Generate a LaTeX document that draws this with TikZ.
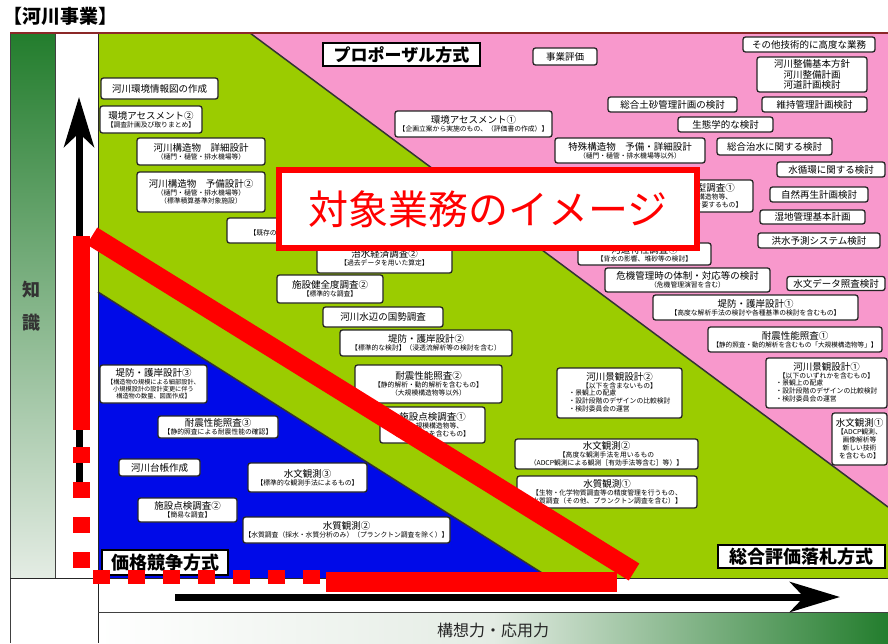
\documentclass[tikz,border=0pt]{standalone}
\usepackage{fontspec}
\setmainfont{Noto Sans CJK JP}
\usetikzlibrary{arrows.meta}

\definecolor{fieldgreen}{RGB}{155,204,0}
\definecolor{fieldpink}{RGB}{248,152,204}
\definecolor{fieldblue}{RGB}{0,10,232}
\definecolor{bargreen}{RGB}{35,125,45}
\definecolor{barlight}{RGB}{228,236,228}
\definecolor{framered}{RGB}{140,40,40}
\definecolor{markred}{RGB}{255,0,0}

\newcommand{\lblmain}{\fontsize{9.5}{11}\selectfont}
\newcommand{\lblsub}{\fontsize{6.8}{8}\selectfont}

\begin{document}
\begin{tikzpicture}[x=1pt,y=-1pt,
  lbl/.style={draw=black!85, line width=1.3pt, rounded corners=2.5pt, fill=white,
    align=center, inner sep=1pt, font=\lblsub},
  one/.style={lbl, font=\lblmain},
  box/.style 2 args={minimum width=#1pt, minimum height=#2pt},
  howto/.style={draw=black, line width=1.8pt, fill=white, inner sep=1pt,
    font=\bfseries\fontsize{17}{18}\selectfont},
  edge/.style={draw=black!80, line width=1.5pt},
  axis/.style={line width=7pt, -{Stealth[length=50pt,width=30pt,inset=14pt]}},
  redmark/.style={draw=markred, line width=17pt},
]
  \fill[white] (0,0) rectangle (888,643);
  \useasboundingbox (0,0) rectangle (888,643);

  % background fields
  \shade[top color=bargreen, bottom color=barlight] (10,33) rectangle (55,578);
  \shade[left color=white, right color=bargreen, middle color=barlight] (98,612) rectangle (888,643);
  \fill[fieldgreen] (98,33) rectangle (888,578);
  \fill[fieldpink] (250,33) -- (888,33) -- (888,507) -- cycle;
  \draw[edge] (250,33) -- (888,507);
  \fill[fieldblue] (98,292) -- (550,578) -- (98,578) -- cycle;
  \draw[edge] (98,292) -- (550,578);

  % frame
  \draw[black!75, line width=0.8pt] (10,33) -- (10,643);
  \draw[black!75, line width=0.8pt] (55,33) -- (55,578);
  \draw[black!85, line width=1pt] (98,33) -- (98,643);
  \draw[black!85, line width=1pt] (10,578) -- (888,578);
  \draw[black!75, line width=0.8pt] (98,612) -- (888,612);
  \draw[framered, line width=1.6pt] (10,33) -- (888,33);

  \node[anchor=west, font=\bfseries\fontsize{19}{20}\selectfont] (title) at (0,16) {【河川事業】};
  \node[font=\bfseries\fontsize{18}{19}\selectfont, text=black!80] (chi) at (32,290) {知};
  \node[font=\bfseries\fontsize{18}{19}\selectfont, text=black!80] (shiki) at (32,323) {識};
  \node[font=\fontsize{16}{17}\selectfont, text=black!85] (kousou) at (493,630) {構想力・応用力};

  % green field
  \node[one, box={117}{21}] (kankyozu) at (159.5,88.5) {河川環境情報図の作成};
  \node[lbl, box={102}{27}] (asesu2) at (151,119.5) {{\lblmain 環境アセスメント②}\\【調査計画及び取りまとめ】};
  \node[lbl, box={128}{27}] (shosai) at (201,151.5) {{\lblmain 河川構造物　詳細設計}\\（樋門・樋管・排水機場等）};
  \node[lbl, box={128}{40}] (yobi2) at (201,192) {{\lblmain 河川構造物　予備設計②}\\（樋門・樋管・排水機場等）\\（標準積算基準対象施設）};
  \node[lbl, box={140}{25}, text height=12pt, text depth=2pt] (kaiseki) at (297,230.5) {【既存の解析手法によるもの】};
  \node[lbl, box={135}{30}] (chisui) at (384.5,258) {{\lblmain 治水経済調査②}\\【過去データを用いた算定】};
  \node[lbl, box={106}{28}] (kenzen) at (330,289) {{\lblmain 施設健全度調査②}\\【標準的な調査】};
  \node[one, box={120}{20}] (kokusei) at (383,317) {河川水辺の国勢調査};
  \node[lbl, box={172}{26}] (teibo2) at (426,343) {{\lblmain 堤防・護岸設計②}\\【標準的な検討】（浸透流解析等の検討を含む）};
  \node[lbl, box={147}{38}] (taishin2) at (428.5,384) {{\lblmain 耐震性能照査②}\\【静的解析・動的解析を含むもの】\\（大規模構造物等以外）};
  \node[lbl, box={105}{36}] (tenken1) at (432.5,425) {{\lblmain 施設点検調査①}\\【大規模構造物等、\\特殊なものを含むもの】};
  \node[lbl, box={125}{50}] (keikan2) at (619.5,393) {{\lblmain 河川景観設計②}\\【以下を含まないもの】\\
    \begin{tabular}{@{}l@{}}・景観上の配慮\\・設計段階のデザインの比較検討\\・検討委員会の運営\end{tabular}};
  \node[lbl, box={183}{30}] (suimon2) at (606.5,454) {{\lblmain 水文観測②}\\【高度な観測手法を用いるもの\\（ADCP観測による観測［有効手法等含む］等）】};
  \node[lbl, box={180}{32}] (suishitsu1) at (607,492) {{\lblmain 水質観測①}\\【生物・化学物質調査等の精度管理を行うもの、\\水質調査（その他、プランクトン調査を含む）】};

  % blue field
  \node[lbl, box={107}{38}, font=\fontsize{6.2}{7.4}\selectfont] (teibo3) at (153.5,384) {{\lblmain 堤防・護岸設計③}\\【構造物の規模による細部設計、\\小規模設計の設計変更に伴う\\構造物の数量、図面作成】};
  \node[lbl, box={120}{22}] (taishin3) at (218,427) {{\lblmain 耐震性能照査③}\\【静的照査による耐震性能の確認】};
  \node[one, box={81}{17}] (daicho) at (159.5,467.5) {河川台帳作成};
  \node[lbl, box={99}{24}] (tenken2) at (187.5,510) {{\lblmain 施設点検調査②}\\【簡易な調査】};
  \node[lbl, box={119}{29}] (suimon3) at (307.5,477.5) {{\lblmain 水文観測③}\\【標準的な観測手法によるもの】};
  \node[lbl, box={207}{26}] (suishitsu2) at (346.5,530) {{\lblmain 水質観測②}\\【水質調査（採水・水質分析のみ）（プランクトン調査を除く）】};

  % pink field
  \node[one, box={64}{17}] (jigyo) at (565,56.5) {事業評価};
  \node[lbl, box={157}{26}] (asesu1) at (473.5,124) {{\lblmain 環境アセスメント①}\\【企画立案から実施のもの、（評価書の作成）】};
  \node[lbl, box={150}{25}] (tokushu) at (630,150.5) {{\lblmain 特殊構造物　予備・詳細設計}\\（樋門・樋管・排水機場等以外）};
  \node[one, box={132}{15}] (sonota) at (809,44.5) {その他技術的に高度な業務};
  \node[lbl, box={110}{35}, font=\fontsize{9.5}{10.5}\selectfont] (kihon) at (812,74.5) {河川整備基本方針\\河川整備計画\\河道計画検討};
  \node[one, box={129}{15}] (dosha) at (672.5,104.5) {総合土砂管理計画の検討};
  \node[one, box={105}{15}] (iji) at (814.5,104.5) {維持管理計画検討};
  \node[one, box={95}{15}] (seitai) at (725.5,124.5) {生態学的な検討};
  \node[one, box={115}{17}] (sogochisui) at (774.5,146.5) {総合治水に関する検討};
  \node[one, box={108}{15}] (junkan) at (831,169.5) {水循環に関する検討};
  \node[one, box={98}{15}] (shizen) at (819,194.5) {自然再生計画検討};
  \node[one, box={105}{14}] (shitchi) at (812.5,217) {湿地管理基本計画};
  \node[one, box={122}{15}] (kozui) at (819,240.5) {洪水予測システム検討};
  \node[lbl, box={103}{32}] (mokei) at (701.5,196) {{\lblmain 水理模型調査①}\\【大規模構造物等、\\複雑な検討を要するもの】};
  \node[lbl, box={133}{22}] (kasho) at (644.5,254) {{\lblmain 河道特性調査①}\\【背水の影響、堆砂等の検討】};
  \node[lbl, box={165}{24}] (kiki) at (687.5,280) {{\lblmain 危機管理時の体制・対応等の検討}\\（危機管理演習を含む）};
  \node[one, box={98}{14}] (suimondata) at (836,283.5) {水文データ照査検討};
  \node[lbl, box={205}{25}] (teibo1) at (755.5,307.5) {{\lblmain 堤防・護岸設計①}\\【高度な解析手法の検討や各種基準の検討を含むもの】};
  \node[lbl, box={174}{25}, font=\fontsize{6.6}{8}\selectfont] (taishin1) at (795,339.5) {{\lblmain 耐震性能照査①}\\【静的照査・動的解析を含むもの「大規模構造物等」】};
  \node[lbl, box={121}{50}] (keikan1) at (826.5,383) {{\lblmain 河川景観設計①}\\【以下のいずれかを含むもの】\\
    \begin{tabular}{@{}l@{}}・景観上の配慮\\・設計段階のデザインの比較検討\\・検討委員会の運営\end{tabular}};
  \node[lbl, box={55}{52}] (suimon1) at (859.5,439) {{\lblmain 水文観測①}\\【ADCP観測、\\画像解析等\\新しい技術\\を含むもの】};

  % ordering methods
  \node[howto, box={157}{23}] (propo) at (401.5,54.5) {プロポーザル方式};
  \node[howto, box={167}{23}, font=\bfseries\fontsize{18}{19}\selectfont] (sogo) at (801.5,556.5) {総合評価落札方式};
  \node[howto, box={126}{25}, font=\bfseries\fontsize{18}{19}\selectfont] (kakaku) at (165,562.5) {価格競争方式};

  % axes
  \coordinate (kbottom) at (79,483);
  \coordinate (ktop) at (79,97);
  \coordinate (oleft) at (175,597);
  \coordinate (oright) at (840,597);
  \draw[axis] (kbottom) -- (ktop);
  \draw[axis] (oleft) -- (oright);

  % target image
  \node[draw=markred, line width=6pt, fill=white, box={418}{78}, text=markred,
    font=\fontsize{40}{42}\selectfont] (image) at (488,209) {対象業務のイメージ};

  \coordinate (vtop) at (81,236);
  \coordinate (vmid) at (81,430);
  \coordinate (vdash) at (81,447);
  \coordinate (vend) at (81,570);
  \coordinate (hdash) at (93,577);
  \coordinate (hmid) at (325,577);
  \coordinate (hsolid) at (326,582);
  \coordinate (hend) at (617,582);
  \coordinate (dtop) at (92,236);
  \coordinate (dend) at (634,572);
  \draw[redmark] (vtop) -- (vmid);
  \draw[redmark, dash pattern=on 16pt off 19pt] (vdash) -- (vend);
  \draw[redmark, line width=14pt, dash pattern=on 17pt off 18pt] (hdash) -- (hmid);
  \draw[redmark, line width=20pt] (hsolid) -- (hend);
  \draw[redmark, line width=20pt] (dtop) -- (dend);
\end{tikzpicture}
\end{document}
